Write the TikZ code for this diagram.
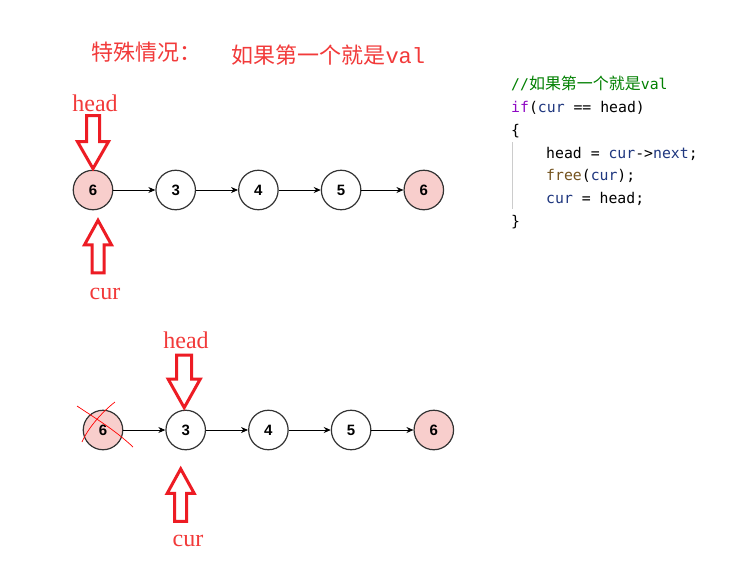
\documentclass[tikz,border=0pt]{standalone}
\usepackage{fontspec}
\setmainfont{Liberation Serif}
\setmonofont{DejaVu Sans Mono}
\newfontfamily\cjk{Noto Sans CJK SC}
\newfontfamily\cjkcode[Scale=1.08]{Noto Sans CJK SC}
\newfontfamily\titlemono{Liberation Mono}
\newfontfamily\numfont{Liberation Sans}
\usetikzlibrary{positioning, arrows.meta, calc}

\definecolor{pinkfill}{HTML}{F8CECC}
\definecolor{arrowred}{HTML}{ED1C24}
\definecolor{labelred}{HTML}{F23A3A}
\definecolor{cmtgreen}{HTML}{008000}
\definecolor{kwpurple}{HTML}{8F08C4}
\definecolor{varnavy}{HTML}{1F377F}
\definecolor{fnolive}{HTML}{74531F}

\begin{document}
\begin{tikzpicture}[
    x=1pt, y=1pt,
    node distance=42pt,
    item/.style={circle, draw=black!80, line width=1.2pt, minimum size=39.5pt, inner sep=0pt, fill=white, font=\numfont\bfseries\fontsize{15}{15}\selectfont},
    target/.style={item, fill=pinkfill},
    link/.style={-{Stealth[length=7pt, width=6pt]}, line width=0.9pt},
    pointer/.style={draw=arrowred, line width=3pt, fill=white, line join=miter},
    tag/.style={text=labelred, font=\fontsize{24}{24}\selectfont, inner sep=0pt},
    cross/.style={draw=red, line width=0.7pt},
    code/.style={anchor=north west, align=left, inner sep=0pt, font=\ttfamily\fontsize{14.8}{22.8}\selectfont}
]
\useasboundingbox[fill=white] (0,0) rectangle (729,-571);

% Title
\node[anchor=west, text=labelred, font=\cjk\fontsize{22}{22}\selectfont] (title) at (88,-52) {特殊情况：};
\node[anchor=west, text=labelred, font=\fontsize{22}{22}\selectfont] (case) at (228,-55) {{\cjk 如果第一个就是}{\titlemono val}};

% Top list
\node[target] (a1) at (93,-190) {6};
\node[item, right=of a1] (a2) {3};
\node[item, right=of a2] (a3) {4};
\node[item, right=of a3] (a4) {5};
\node[target, right=of a4] (a5) {6};
\draw[link] (a1) -- (a2);
\draw[link] (a2) -- (a3);
\draw[link] (a3) -- (a4);
\draw[link] (a4) -- (a5);

% Top pointers
\draw[pointer] ($(a1.north)+(0,1)$) -- ++(-15.5,27) -- ++(9,0) -- ++(0,26) -- ++(13,0) -- ++(0,-26) -- ++(9,0) -- cycle;
\draw[pointer] ($(a1.south)+(5,-10)$) -- ++(-13.5,-24.5) -- ++(7.5,0) -- ++(0,-28) -- ++(12,0) -- ++(0,28) -- ++(7.5,0) -- cycle;
\node[tag] (headA) at (95,-103) {head};
\node[tag] (curA) at (105,-294) {cur};

% Bottom list
\node[target] (b1) at (103,-430) {6};
\node[item, right=of b1] (b2) {3};
\node[item, right=of b2] (b3) {4};
\node[item, right=of b3] (b4) {5};
\node[target, right=of b4] (b5) {6};
\draw[link] (b1) -- (b2);
\draw[link] (b2) -- (b3);
\draw[link] (b3) -- (b4);
\draw[link] (b4) -- (b5);

% Crossed-out first node
\draw[cross] (77,-406) .. controls (95,-418) and (115,-430) .. (133,-447);
\draw[cross] (82,-442) .. controls (88,-428) and (102,-412) .. (115,-402);

% Bottom pointers
\draw[pointer] ($(b2.north)+(-1.5,2)$) -- ++(-16,28.5) -- ++(8.5,0) -- ++(0,24) -- ++(15,0) -- ++(0,-24) -- ++(8.5,0) -- cycle;
\draw[pointer] ($(b2.south)+(-5,-18.5)$) -- ++(-13.5,-24.5) -- ++(7.5,0) -- ++(0,-28) -- ++(12,0) -- ++(0,28) -- ++(7.5,0) -- cycle;
\node[tag] (headB) at (186,-340) {head};
\node[tag] (curB) at (188,-541) {cur};

% Code
\draw[black!20, line width=0.8pt] (512,-142) -- (512,-209);
\node[code] (src) at (511,-76) {%
  {\color{cmtgreen}//{\cjkcode 如果第一个就是}val}\\
  {\color{kwpurple}if}(\textcolor{varnavy}{cur} == head)\\
  \{\\
  \hspace*{35pt}head = \textcolor{varnavy}{cur}->\textcolor{varnavy}{next};\\
  \hspace*{35pt}\textcolor{fnolive}{free}(\textcolor{varnavy}{cur});\\
  \hspace*{35pt}\textcolor{varnavy}{cur} = head;\\
  \}};

\end{tikzpicture}
\end{document}
